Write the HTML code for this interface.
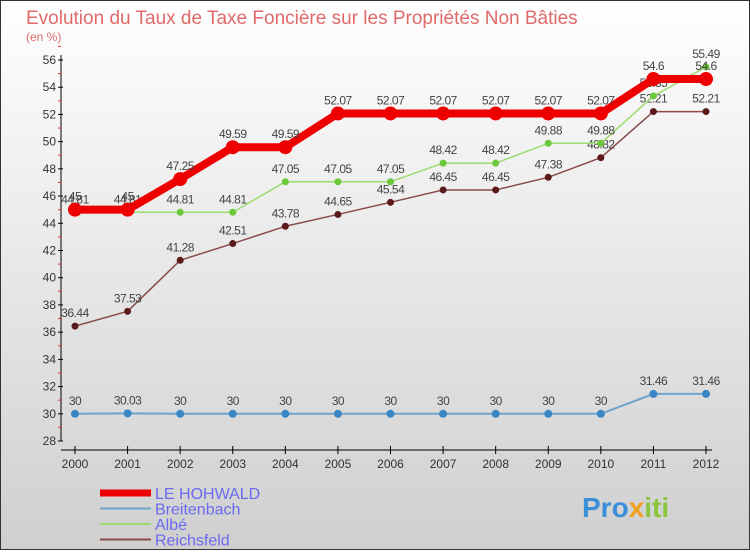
<!DOCTYPE html>
<html><head><meta charset="utf-8"><style>
html,body{margin:0;padding:0}
body{width:750px;height:550px;overflow:hidden;font-family:"Liberation Sans",sans-serif}
</style></head><body>
<svg id="c" width="750" height="550" xmlns="http://www.w3.org/2000/svg">
<defs><linearGradient id="bg" x1="0" y1="0" x2="0" y2="1"><stop offset="0" stop-color="#ffffff"/><stop offset="1" stop-color="#cfcfcf"/></linearGradient></defs>
<rect x="0.5" y="0.5" width="749" height="549" fill="url(#bg)" stroke="#333"/>
<text x="26" y="24" font-size="19" fill="#e06a6a">Evolution du Taux de Taxe Foncière sur les Propriétés Non Bâties</text>
<text x="26" y="41" font-size="12" fill="#e06a6a">(en %)</text>
<g id="axes"></g><g id="series"></g><g id="legend"></g>
<text x="582" y="517" font-size="28" font-weight="bold" fill="#3a8fd8">Pro<tspan fill="#f0a020">x</tspan><tspan fill="#8cc63f">iti</tspan></text>
</svg>
<script>
const years=["2000","2001","2002","2003","2004","2005","2006","2007","2008","2009","2010","2011","2012"];
const yTicks=[28,30,32,34,36,38,40,42,44,46,48,50,52,54,56];
const hohwald=[45,45,47.25,49.59,49.59,52.07,52.07,52.07,52.07,52.07,52.07,54.6,54.6];
const breitenbach=[30,30.03,30,30,30,30,30,30,30,30,30,31.46,31.46];
const albe=[44.81,44.81,44.81,44.81,47.05,47.05,47.05,48.42,48.42,49.88,49.88,53.35,55.49];
const reichsfeld=[36.44,37.53,41.28,42.51,43.78,44.65,45.54,46.45,46.45,47.38,48.82,52.21,52.21];
const NS="http://www.w3.org/2000/svg";
const X=i=>75+i*(706-75)/(years.length-1);
const Y=v=>441-(v-28)*(441-60)/28;
function mk(t,a,p){const e=document.createElementNS(NS,t);for(const k in a)e.setAttribute(k,a[k]);p.appendChild(e);return e;}
const ax=document.getElementById('axes');
let l=mk('line',{x1:61,y1:55,x2:61,y2:441,stroke:'#000'},ax);


l=mk('line',{x1:61,y1:450,x2:712,y2:450,stroke:'#000'},ax);


yTicks.forEach(v=>{const y=Y(v);
mk('line',{x1:58,y1:y,x2:63,y2:y,stroke:'#000'},ax);
mk('line',{x1:58,y1:Y(v+1),x2:61,y2:Y(v+1),stroke:'#e33'},ax);
const t=mk('text',{x:56,y:y+4,'font-size':12,fill:'#333','text-anchor':'end'},ax);t.textContent=v;

});
years.forEach((yr,i)=>{const x=X(i);mk('line',{x1:x,y1:446,x2:x,y2:454,stroke:'#000'},ax);
const t=mk('text',{x:x,y:468,'font-size':12,fill:'#333','text-anchor':'middle'},ax);t.textContent=yr;

});
const sg=document.getElementById('series');
function series(name,vals,color,w,dot,dotc){const g=mk('g',{},sg);


mk('polyline',{points:vals.map((v,i)=>X(i)+','+Y(v)).join(' '),fill:'none',stroke:color,'stroke-width':w,'stroke-linejoin':'round'},g);
vals.forEach((v,i)=>{const c=mk('circle',{cx:X(i),cy:Y(v),r:dot,fill:dotc},g);


const t=mk('text',{x:X(i),y:Y(v)-9,'font-size':12,fill:'#444','text-anchor':'middle','letter-spacing':'-0.5'},g);t.textContent=String(v);});}
series('reichsfeld',reichsfeld,'#8a4a4a',1.5,3.5,'#5a1a1a');
series('albe',albe,'#9ddc70',1.5,3.5,'#6cc83a');
series('breitenbach',breitenbach,'#6fa4cc',2,4,'#3a86c4');
series('le-hohwald',hohwald,'#ee0000',8,7,'#ee0000');
const lg=document.getElementById('legend');
[['LE HOHWALD','#ee0000',7],['Breitenbach','#6fa4cc',2],['Albé','#9ddc70',2],['Reichsfeld','#8a4a4a',2]].forEach((s,i)=>{const y=493+i*15.5;
const g=mk('g',{},lg);


mk('line',{x1:100,y1:y,x2:151,y2:y,stroke:s[1],'stroke-width':s[2]},g);
const t=mk('text',{x:155,y:y+6,'font-size':16,fill:'#6a6aee'},g);t.textContent=s[0];});
</script>
</body></html>
